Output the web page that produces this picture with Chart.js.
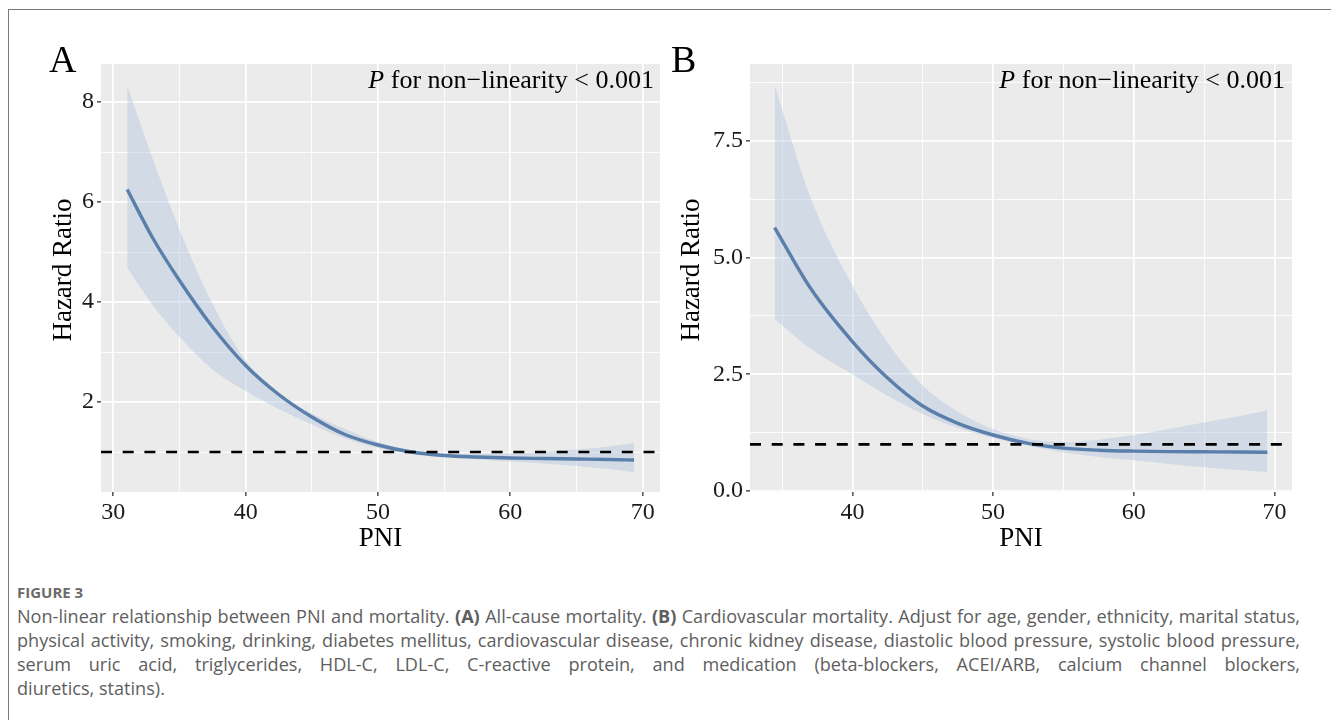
<!DOCTYPE html>
<html>
<head>
<meta charset="utf-8">
<script src="https://cdn.jsdelivr.net/npm/chart.js@4.4.1/dist/chart.umd.min.js"></script>
<style>
  html, body { margin: 0; padding: 0; background: #fff; }
  body { width: 1331px; height: 720px; position: relative; overflow: hidden; }
  #frame { position: absolute; left: 8px; top: 9px; width: 1400px; height: 800px;
           border-left: 1px solid #7a7a7a; border-top: 1px solid #7a7a7a; }
  canvas { position: absolute; top: 0; }
  .tag { position: absolute; font-family: "Liberation Serif", serif; font-size: 38px; line-height: 38px; color: #000; }
  .pnote { position: absolute; font-family: "Liberation Serif", serif; font-size: 26px; line-height: 26px;
           white-space: nowrap; color: #000; }
  #fig { position: absolute; left: 17px; top: 582px; font-family: "Open Sans", sans-serif; font-weight: 700;
         font-size: 15px; line-height: 20px; color: #6a6a6a; }
  #caption { position: absolute; left: 17px; top: 604px; width: 1283px; font-family: "Open Sans", sans-serif;
             color: #5e5e5e; line-height: 24px; }
  #caption div { text-align: justify; text-align-last: justify; white-space: nowrap; }
  #caption div.last { text-align-last: left; }
</style>
</head>
<body>
<div id="frame"></div>
<canvas id="chartA" width="665" height="565" style="left:0px;width:665px;height:565px"></canvas>
<canvas id="chartB" width="666" height="565" style="left:665px;width:666px;height:565px"></canvas>
<div class="tag" style="left:49px;top:40px">A</div>
<div class="tag" style="left:671px;top:40px">B</div>
<div class="pnote" style="right:677px;top:67px"><i>P</i> for non−linearity &lt; 0.001</div>
<div class="pnote" style="right:46px;top:67px"><i>P</i> for non−linearity &lt; 0.001</div>
<div id="fig">FIGURE 3</div>
<div id="caption">
  <div>Non-linear relationship between PNI and mortality. <b>(A)</b> All-cause mortality. <b>(B)</b> Cardiovascular mortality. Adjust for age, gender, ethnicity, marital status,</div>
  <div>physical activity, smoking, drinking, diabetes mellitus, cardiovascular disease, chronic kidney disease, diastolic blood pressure, systolic blood pressure,</div>
  <div>serum uric acid, triglycerides, HDL-C, LDL-C, C-reactive protein, and medication (beta-blockers, ACEI/ARB, calcium channel blockers,</div>
  <div class="last">diuretics, statins).</div>
</div>
<script>
// panel A: all-cause mortality
const pniA   = [31.05, 33, 35, 37.5, 40, 42.5, 45, 47.5, 50, 52.5, 55, 57.5, 60, 62.5, 65, 67.5, 69.35];
const hrA    = [6.25, 5.27, 4.43, 3.5, 2.73, 2.15, 1.7, 1.35, 1.14, 1.0, 0.93, 0.9, 0.88, 0.87, 0.86, 0.85, 0.84];
const lowerA = [4.69, 3.93, 3.3, 2.65, 2.22, 1.86, 1.55, 1.27, 1.08, 0.97, 0.9, 0.85, 0.81, 0.77, 0.72, 0.66, 0.6];
const upperA = [8.33, 6.85, 5.45, 3.96, 2.83, 2.17, 1.77, 1.46, 1.2, 1.04, 0.97, 0.96, 0.97, 1.0, 1.05, 1.11, 1.18];

// panel B: cardiovascular mortality
const pniB   = [34.47, 37, 40, 42.5, 45, 47.5, 50, 52.5, 55, 57.5, 60, 62.5, 65, 67.5, 69.5];
const hrB    = [5.64, 4.35, 3.2, 2.42, 1.82, 1.45, 1.2, 1.02, 0.92, 0.875, 0.855, 0.845, 0.84, 0.835, 0.83];
const lowerB = [3.69, 3.05, 2.5, 2.04, 1.65, 1.35, 1.14, 0.97, 0.83, 0.73, 0.66, 0.58, 0.51, 0.45, 0.41];
const upperB = [8.69, 6.3, 4.4, 3.18, 2.26, 1.7, 1.33, 1.12, 1.05, 1.1, 1.2, 1.33, 1.47, 1.6, 1.73];

const refHR = 1;

const xGridA  = [30, 35, 40, 45, 50, 55, 60, 65, 70];
const xLabelA = [30, 40, 50, 60, 70];
const yGridA  = [1, 2, 3, 4, 5, 6, 7, 8];
const yLabelA = [2, 4, 6, 8];

const xGridB  = [35, 40, 45, 50, 55, 60, 65, 70];
const xLabelB = [40, 50, 60, 70];
const yGridB  = [0, 1.25, 2.5, 3.75, 5, 6.25, 7.5, 8.75];
const yLabelB = [0, 2.5, 5, 7.5];

const LINE = '#5b7fab';
const BAND = 'rgba(176,196,222,0.42)';
const NONE = 'rgba(0,0,0,0)';
const SERIF = '"Liberation Serif", "Times New Roman", serif';

Chart.defaults.font.family = SERIF;

const panelBg = {
  id: 'panelBg',
  beforeDraw(chart) {
    const a = chart.chartArea, ctx = chart.ctx;
    ctx.save();
    ctx.fillStyle = '#ebebeb';
    ctx.fillRect(a.left, a.top, a.right - a.left, a.bottom - a.top);
    ctx.restore();
  }
};

// y axis title, placed a little above the panel centre as in the original
const yTitle = {
  id: 'yTitle',
  afterDraw(chart, args, opts) {
    const a = chart.chartArea, ctx = chart.ctx;
    ctx.save();
    ctx.translate(opts.x, (a.top + a.bottom) / 2 - 8);
    ctx.rotate(-Math.PI / 2);
    ctx.textAlign = 'center';
    ctx.textBaseline = 'middle';
    ctx.fillStyle = '#000';
    ctx.font = '27px ' + SERIF;
    ctx.fillText(opts.text, 0, 0);
    ctx.restore();
  }
};

function makePanel(id, p) {
  const pts = ys => p.pni.map((x, i) => ({ x, y: ys[i] }));
  const major = list => c => list.includes(c.tick.value);
  const xMajor = major(p.xLabels), yMajor = major(p.yLabels);

  return new Chart(document.getElementById(id), {
    type: 'line',
    data: {
      datasets: [
        { data: [{ x: p.xRange[0], y: refHR }, { x: p.xRange[1], y: refHR }],
          borderColor: '#000', borderWidth: 2.7, borderDash: [11, 10.7], pointRadius: 0, fill: false },
        { data: pts(p.hr), borderColor: LINE, borderWidth: 3.4, pointRadius: 0, fill: false,
          cubicInterpolationMode: 'monotone', borderCapStyle: 'butt' },
        { data: pts(p.upper), borderColor: NONE, borderWidth: 0, pointRadius: 0, fill: '+1',
          backgroundColor: BAND, cubicInterpolationMode: 'monotone' },
        { data: pts(p.lower), borderColor: NONE, borderWidth: 0, pointRadius: 0, fill: false,
          cubicInterpolationMode: 'monotone' }
      ]
    },
    options: {
      animation: false,
      responsive: false,
      events: [],
      layout: { padding: { top: 64, right: p.padRight, left: 0, bottom: 0 } },
      plugins: {
        legend: { display: false },
        tooltip: { enabled: false },
        yTitle: { text: 'Hazard Ratio', x: p.titleX }
      },
      scales: {
        x: {
          type: 'linear',
          min: p.xRange[0], max: p.xRange[1],
          afterBuildTicks: s => { s.ticks = p.xGrid.map(v => ({ value: v })); },
          afterFit: s => { s.height = 73; },
          border: { display: false },
          grid: {
            color: '#fff',
            lineWidth: c => xMajor(c) ? 1.7 : 0.85,
            drawTicks: true, tickLength: 4, tickWidth: 1.3,
            tickColor: c => xMajor(c) ? '#333' : NONE
          },
          ticks: {
            autoSkip: false, maxRotation: 0, padding: 2, color: '#1a1a1a',
            font: { size: 24 },
            callback: v => p.xLabels.includes(v) ? String(v) : ''
          },
          title: { display: true, text: 'PNI', color: '#000', font: { size: 27 },
                   padding: { top: 0, bottom: 10 } }
        },
        y: {
          type: 'linear',
          min: p.yRange[0], max: p.yRange[1],
          afterBuildTicks: s => { s.ticks = p.yGrid.map(v => ({ value: v })); },
          afterFit: s => { s.width = p.axisWidth; },
          border: { display: false },
          grid: {
            color: '#fff',
            lineWidth: c => yMajor(c) ? 1.7 : 0.85,
            drawTicks: true, tickLength: 4, tickWidth: 1.3,
            tickColor: c => yMajor(c) ? '#333' : NONE
          },
          ticks: {
            autoSkip: false, padding: 3, color: '#1a1a1a',
            font: { size: 24 },
            callback: v => p.yLabels.includes(v) ? p.fmt(v) : ''
          }
        }
      }
    },
    plugins: [panelBg, yTitle]
  });
}

makePanel('chartA', {
  pni: pniA, hr: hrA, lower: lowerA, upper: upperA,
  xRange: [29.07, 71.31], yRange: [0.2, 8.76],
  xGrid: xGridA, xLabels: xLabelA, yGrid: yGridA, yLabels: yLabelA,
  fmt: v => String(v), axisWidth: 101, padRight: 5, titleX: 64
});

makePanel('chartB', {
  pni: pniB, hr: hrB, lower: lowerB, upper: upperB,
  xRange: [32.72, 71.25], yRange: [-0.02, 9.14],
  xGrid: xGridB, xLabels: xLabelB, yGrid: yGridB, yLabels: yLabelB,
  fmt: v => v.toFixed(1), axisWidth: 85, padRight: 39, titleX: 27
});

// fit caption font so the widest justified line fills the text block
(function fitCaption() {
  const box = document.getElementById('caption');
  const lines = Array.from(box.querySelectorAll('div'));
  const c = document.createElement('canvas').getContext('2d');
  let widest = 0;
  lines.slice(0, 2).forEach(d => {
    c.font = '100px "Open Sans"';
    widest = Math.max(widest, c.measureText(d.textContent).width);
  });
  const size = Math.floor(100 * 1270 / widest * 10) / 10;
  box.style.fontSize = size + 'px';
})();
</script>
</body>
</html>
